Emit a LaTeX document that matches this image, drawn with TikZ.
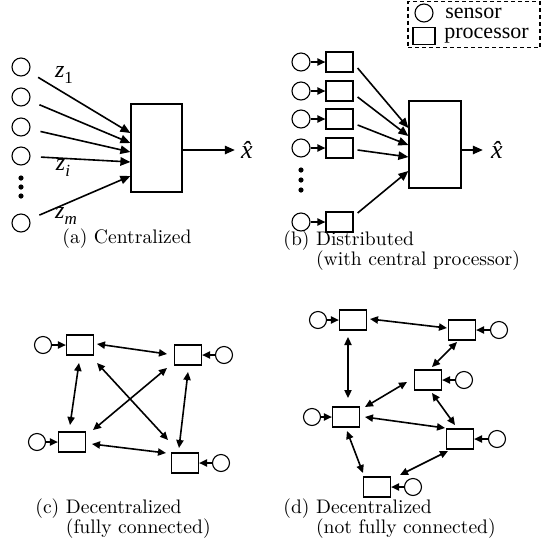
\documentclass[tikz,border=0pt]{standalone}
\usepackage{fontspec}
\newfontfamily\tms{Liberation Serif}
\usetikzlibrary{arrows.meta,calc}
\newcommand\lowsub[1]{\raisebox{-0.28em}{\fontsize{8.5}{9}\selectfont #1}}
\begin{document}
\begin{tikzpicture}[x=0.5pt,y=-0.5pt,
  sensor/.style={circle,draw,line width=0.55pt,minimum size=9pt,inner sep=0pt},
  ssensor/.style={circle,draw,line width=0.55pt,minimum size=8.5pt,inner sep=0pt},
  proc/.style={rectangle,draw,line width=0.6pt,minimum width=13.5pt,minimum height=10pt,inner sep=0pt},
  bigproc/.style={rectangle,draw,line width=0.6pt,minimum width=25.5pt,minimum height=44pt,inner sep=0pt},
  arr/.style={line width=0.8pt,-{Triangle[length=5pt,width=4.2pt]}},
  sarr/.style={line width=0.8pt,-{Triangle[length=4pt,width=3.6pt]}},
  bi/.style={line width=0.8pt,{Triangle[length=4pt,width=3.6pt]}-{Triangle[length=4pt,width=3.6pt]}},
  vdot/.style={circle,fill,inner sep=0pt,minimum size=2.6pt},
  captxt/.style={font=\fontsize{9.8}{11}\selectfont,anchor=west,inner sep=0pt},
  lbl/.style={font=\tms\fontsize{12}{13}\selectfont\itshape,inner sep=0pt},
  legtxt/.style={font=\tms\fontsize{11}{12}\selectfont,anchor=west,inner sep=0pt}
]
\useasboundingbox (0,0) rectangle (542,553);

% ---------- (a) ----------
\node[sensor] (a1) at (21,67) {};
\node[sensor] (a2) at (21,97) {};
\node[sensor] (a3) at (21,127) {};
\node[sensor] (a4) at (21,156) {};
\node[sensor] (a5) at (21,223) {};
\node[vdot] (ad1) at (21,178) {};
\node[vdot] (ad2) at (21,187) {};
\node[vdot] (ad3) at (21,196) {};
\node[bigproc] (A) at (156.5,148) {};
\draw[arr,shorten <=10pt] (a1.center) -- ($(A.west)+(0,-15)$);
\draw[arr,shorten <=10pt] (a2.center) -- ($(A.west)+(0,-5)$);
\draw[arr,shorten <=10pt] (a3.center) -- ($(A.west)+(0,4)$);
\draw[arr,shorten <=10pt] (a4.center) -- ($(A.west)+(0,14)$);
\draw[arr,shorten <=10pt] (a5.center) -- ($(A.west)+(0,28)$);
\node[lbl] (z1) at (64,75) {z\lowsub{\upshape 1}};
\node[lbl] (zi) at (63,168) {z\lowsub{i}};
\node[lbl] (zm) at (66,216) {z\lowsub{m}};
\node[lbl,font=\tms\fontsize{13}{14}\selectfont\itshape] (xa) at (247,150) {\^{x}};
\draw[arr,shorten >=3pt] (A.east |- xa) -- (xa);

% ---------- (b) ----------
\node[sensor] (b1) at (301,62) {};
\node[sensor] (b2) at (301,91) {};
\node[sensor] (b3) at (301,119) {};
\node[sensor] (b4) at (301,148) {};
\node[sensor] (b5) at (301,222) {};
\node[vdot] (bd1) at (301,170) {};
\node[vdot] (bd2) at (301,180) {};
\node[vdot] (bd3) at (301,190) {};
\node[proc] (p1) at (339.5,62) {};
\node[proc] (p2) at (339.5,91) {};
\node[proc] (p3) at (339.5,119) {};
\node[proc] (p4) at (339.5,148) {};
\node[proc] (p5) at (339.5,222) {};
\foreach \i in {1,...,5} {\draw[sarr] (b\i) -- (p\i);}
\node[bigproc,minimum width=26pt,minimum height=43.5pt] (B) at (435,144.5) {};
\draw[arr] ($(p1.east)+(4,6)$) -- ($(B.west)+(0,-16.5)$);
\draw[arr] ($(p2.east)+(4,6)$) -- ($(B.west)+(0,-8.5)$);
\draw[arr] ($(p3.east)+(4,6)$) -- ($(B.west)+(0,0.5)$);
\draw[arr] ($(p4.east)+(4,2)$) -- ($(B.west)+(0,12.5)$);
\draw[arr] ($(p5.east)+(4,-9)$) -- ($(B.west)+(0,26.5)$);
\node[lbl,font=\tms\fontsize{13}{14}\selectfont\itshape] (xb) at (497,150) {\^{x}};
\draw[arr,shorten >=4pt] (B.east |- xb) -- (xb);

% legend
\node[draw,dashed,dash pattern=on 2pt off 1.5pt,line width=0.6pt,minimum width=66pt,minimum height=23pt,inner sep=0pt] (leg) at (474,24.5) {};
\node[sensor] (ls) at (424,13) {};
\node[proc,minimum width=11pt,minimum height=8.5pt] (lp) at (424,36) {};
\node[legtxt] (lst) at (445,13) {sensor};
\node[legtxt] (lpt) at (444,36) {processor};

% ---------- (c) ----------
\node[proc] (cTL) at (80,345) {};
\node[proc] (cTR) at (188,355) {};
\node[proc] (cBL) at (72,442) {};
\node[proc] (cBR) at (185,463) {};
\node[ssensor] (sTL) at (43,345) {};
\node[ssensor] (sTR) at (224,355) {};
\node[ssensor] (sBL) at (37,442) {};
\node[ssensor] (sBR) at (221,463) {};
\draw[sarr] (sTL) -- (cTL);
\draw[sarr] (sTR) -- (cTR);
\draw[sarr] (sBL) -- (cBL);
\draw[sarr] (sBR) -- (cBR);
\draw[bi] ($(cTL)+(17,-1)$) -- ($(cTR)+(-21,-1)$);
\draw[bi] ($(cTL)+(-1,18)$) -- ($(cBL)+(-2,-17)$);
\draw[bi] ($(cTL)+(17,18)$) -- ($(cBR)+(-17,-23)$);
\draw[bi] ($(cTR)+(-21,13)$) -- ($(cBL)+(21,-12)$);
\draw[bi] ($(cTR)+(0,17)$) -- ($(cBR)+(-6,-15)$);
\draw[bi] ($(cBL)+(20,2)$) -- ($(cBR)+(-19,-10)$);

% ---------- (d) ----------
\node[proc] (dA) at (353,320) {};
\node[proc] (dB) at (462,330) {};
\node[proc] (dC) at (428,380) {};
\node[proc] (dD) at (346,417) {};
\node[proc] (dE) at (460,439) {};
\node[proc] (dF) at (377,487) {};
\node[ssensor] (tA) at (318,320) {};
\node[ssensor] (tB) at (499,330) {};
\node[ssensor] (tC) at (464,380) {};
\node[ssensor] (tD) at (312,417) {};
\node[ssensor] (tE) at (497,439) {};
\node[ssensor] (tF) at (413,487) {};
\foreach \n in {A,B,C,D,E,F} {\draw[sarr] (t\n) -- (d\n);}
\draw[bi] ($(dA)+(17,-1)$) -- ($(dB)+(-15,-2)$);
\draw[bi] ($(dA)+(-5,17)$) -- ($(dD)+(2,-19)$);
\draw[bi] ($(dB)+(-5,12)$) -- ($(dC)+(4,-13)$);
\draw[bi] ($(dC)+(-21,2)$) -- ($(dD)+(19,-10)$);
\draw[bi] ($(dC)+(4,13)$) -- ($(dE)+(-5,-14)$);
\draw[bi] ($(dD)+(19,0)$) -- ($(dE)+(-15,-11)$);
\draw[bi] ($(dD)+(1,14)$) -- ($(dF)+(-14,-14)$);
\draw[bi] ($(dE)+(-12,12)$) -- ($(dF)+(23,-12)$);

% ---------- captions ----------
\node[captxt] (capa) at (62,239) {(a) Centralized};
\node[captxt,anchor=north west] (capb) at (283,230) {\begin{tabular}{@{}l@{\ }l@{}}(b)&Distributed\\[-1pt]&(with central processor)\end{tabular}};
\node[captxt,anchor=north west] (capc) at (35,498) {\begin{tabular}{@{}l@{\ }l@{}}(c)&Decentralized\\[-1pt]&(fully connected)\end{tabular}};
\node[captxt,anchor=north west] (capd) at (283,498) {\begin{tabular}{@{}l@{\ }l@{}}(d)&Decentralized\\[-1pt]&(not fully connected)\end{tabular}};
\end{tikzpicture}
\end{document}
